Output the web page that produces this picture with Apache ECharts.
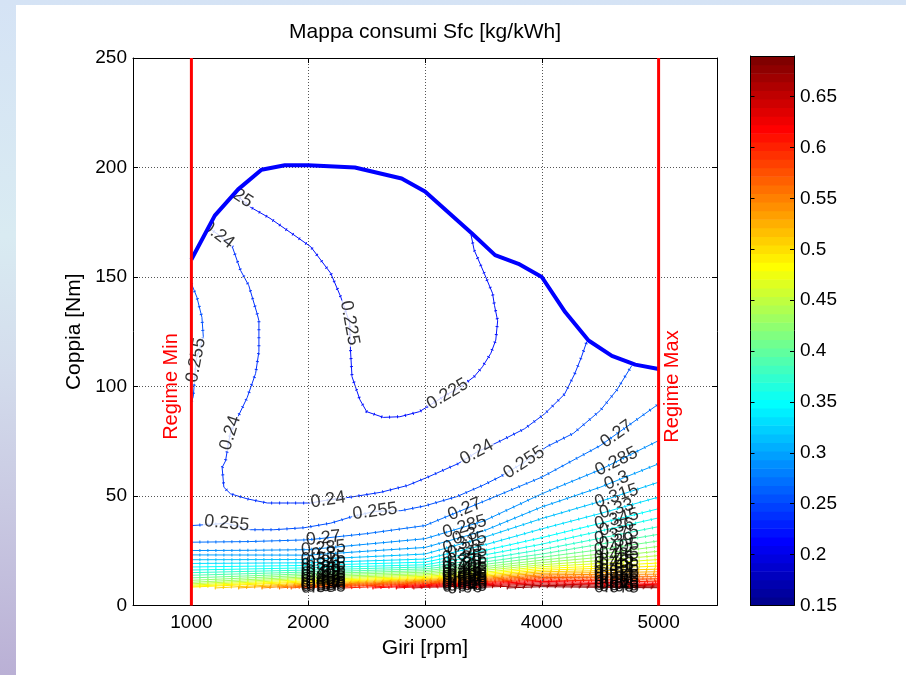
<!DOCTYPE html>
<html>
<head>
<meta charset="utf-8">
<title>Mappa consumi Sfc</title>
<script src="https://cdn.jsdelivr.net/npm/echarts@6/dist/echarts.min.js"></script>
<style>
  html, body { margin: 0; padding: 0; width: 906px; height: 675px; overflow: hidden; }
  body { background: linear-gradient(180deg, #d5e3f5 0%, #d9ebf2 35%, #d3dcec 55%, #c9c9e2 75%, #bab0d5 100%); position: relative; }
  #panel { position: absolute; left: 16px; top: 5px; right: 0; bottom: 0; background: #ffffff; }
  #chart { position: absolute; left: 0; top: 0; width: 906px; height: 675px; }
</style>
</head>
<body>
<div id="panel"></div>
<div id="chart"></div>
<script>
// ---- axes ----
const X_MIN = 500, X_MAX = 5500;
const Y_MIN = 0, Y_MAX = 250, Y_STEP = 50;
const X_TICKS = [1000, 2000, 3000, 4000, 5000];

// ---- operating limits ----
const REGIME_MIN = 1000;
const REGIME_MAX = 5000;
const REGIME_LABEL_NM = 100;

// ---- colour scale (Sfc, kg/kWh) ----
const CB_MIN = 0.15, CB_MAX = 0.69;
const CB_TICKS = [0.15, 0.2, 0.25, 0.3, 0.35, 0.4, 0.45, 0.5, 0.55, 0.6, 0.65];

// ---- full-load torque curve ----
const FULL_LOAD_RPM = [1000, 1200, 1400, 1600, 1800, 2000, 2400, 2800, 3000, 3400, 3600, 3800, 4000, 4200, 4400, 4600, 4800, 5000];
const FULL_LOAD_NM  = [158, 178, 190, 199, 201, 201, 200, 195, 189, 170, 160, 156, 150, 134, 121, 114, 110, 108];

// ---- iso-Sfc lines in the upper part of the map: [rpm, Nm] ----
const SFC_225 = [[1117,195],[1350,189],[1502,182],[1673,176.8],[1816,171.5],[2022,163.8],[2193,151.7],[2278,141],[2355,129],[2362,116.7],[2375,104.5],[2443,93.9],[2501,88.5],[2643,85.9],[2785,86.2],[2952,88.5],[3193,96.5],[3307,99.9],[3421,104.5],[3492,109],[3564,115.2],[3606,121.2],[3622,130],[3595,137],[3578,142.6],[3507,151.7],[3421,162.3],[3395,169]];
const SFC_240 = [[1074,175],[1230,169.4],[1349,164],[1421,153],[1492,146],[1564,133],[1578,130],[1578,116],[1550,106],[1478,95],[1333,78.8],[1292,66],[1263,63],[1278,54],[1335,51],[1478,48.7],[1650,46.8],[1850,46.8],[2021,46.8],[2170,48.2],[2365,49.5],[2622,51.7],[2850,54.8],[3023,58.6],[3280,64.7],[3443,70],[3652,75.3],[3852,80.7],[4024,87.5],[4195,96.5],[4281,105.7],[4339,113.4],[4385,120.5]];
const SFC_255_TOP = [[1000,147],[1047,140.8],[1090,131.6],[1102,122.7],[1040,112],[1016,95.3],[1000,93]];
const SFC_255 = [[1000,36.5],[1302,37.5],[1506,34.6],[1706,34.6],[1964,35.5],[2193,37.6],[2365,40.4],[2572,43],[2794,43.3],[3000,45.5],[3271,49.7],[3500,55],[3650,59],[3847,65.3],[4042,72.5],[4270,78.6],[4500,89],[4642,98.4],[4770,109.5]];
const SFC_270 = [[1000,28.9],[1500,29.2],[2000,30],[2500,32.8],[3000,36.5],[3500,47.5],[4000,58.6],[4500,73],[5000,92]];
const SFC_285 = [[1000,25.1],[1500,25.2],[2000,25.5],[2500,28],[3000,30.5],[3500,38.5],[4000,51],[4500,62],[5000,75.3]];
const SFC_300 = [[1000,23.1],[2000,23],[2500,24.8],[3000,26.5],[3500,34],[4000,45],[4500,54],[5000,64.7]];

// ---- dense iso-Sfc lines at low load: torque (Nm) at each rpm column ----
const LOW_RPM = [1000, 2000, 3000, 3500, 4000, 4500, 5000];
const LOW_LEVELS = [0.315, 0.33, 0.345, 0.36, 0.375, 0.39, 0.405, 0.42, 0.435, 0.45, 0.465, 0.48, 0.495,
                    0.51, 0.525, 0.54, 0.555, 0.57, 0.585, 0.6, 0.615, 0.63, 0.645, 0.66, 0.675];
const LOW_NM = [
  [20.9, 21.0, 23.5, 31.0, 39.7, 47.5, 56.3],
  [19.2, 19.5, 21.2, 27.5, 35.0, 42.0, 49.5],
  [17.6, 18.3, 19.8, 25.0, 31.0, 37.5, 44.2],
  [16.2, 17.2, 18.6, 23.0, 28.0, 34.0, 40.0],
  [15.0, 16.2, 17.6, 21.2, 25.5, 30.7, 36.0],
  [13.8, 15.3, 16.7, 19.8, 23.5, 28.0, 32.5],
  [12.6, 14.5, 15.9, 18.7, 22.0, 25.5, 29.5],
  [11.5, 13.8, 15.2, 17.7, 20.7, 23.5, 27.0],
  [10.6, 13.1, 14.5, 16.8, 19.6, 22.0, 24.8],
  [9.9, 12.5, 13.9, 16.0, 18.6, 20.5, 22.8],
  [9.3, 11.9, 13.3, 15.2, 17.7, 19.2, 21.0],
  [8.8, 11.3, 12.8, 14.6, 16.9, 18.0, 19.4],
  [8.4, 10.8, 12.3, 14.0, 16.1, 17.0, 18.0],
  [null, 10.3, 11.9, 13.4, 15.4, 15.9, 16.6],
  [null, 9.8, 11.5, 12.9, 14.7, 15.0, 15.4],
  [null, 9.4, 11.1, 12.4, 14.0, 14.2, 14.3],
  [null, 9.0, 10.7, 11.9, 13.4, 13.4, 13.3],
  [null, 8.6, 10.3, 11.4, 12.8, 12.7, 12.4],
  [null, 8.2, 9.9, 10.9, 12.2, 12.0, 11.6],
  [null, null, 9.5, 10.5, 11.6, 11.3, 10.8],
  [null, null, 9.1, 10.0, 11.0, 10.6, 10.1],
  [null, null, 8.7, 9.5, 10.4, 10.0, 9.5],
  [null, null, 8.3, 9.0, 9.8, 9.4, 9.0],
  [null, null, null, 8.4, 9.2, 8.8, 8.5],
  [null, null, null, null, 8.6, 8.3, 8.1]
];
// lowest mapped torque, and rpm where a line leaves that edge
const LOW_EDGE_NM = 8;
const LOW_START_RPM = [null, null, null, null, null, null, null, null, null, null, null, null, null,
                       1200, 1400, 1600, 1750, 1850, 1950, 2300, 2550, 2750, 2900, 3300, 3700];

// ---- contour labels ----
const LABELS_FIXED = [
  [0.225, 1350, 189], [0.225, 2355, 129], [0.225, 3193, 96.5],
  [0.24, 1230, 169.4], [0.24, 1333, 78.8], [0.24, 2170, 48.2], [0.24, 3443, 70],
  [0.255, 1040, 112], [0.255, 1302, 37.5], [0.255, 2572, 43], [0.255, 3847, 65.3]
];
const LABEL_CLUSTER_RPM = [2130, 3340, 4640];

const FONT = '"Liberation Sans", Arial, Helvetica, sans-serif';

// MATLAB-style 64-step jet colormap
function jet(i) {
  const u = k => (k <= 16 ? k / 16 : (k <= 31 ? 1 : (48 - k) / 16));
  const r = i >= 25 ? u(i - 24) : 0;
  const g = (i >= 9 && i <= 55) ? u(i - 8) : 0;
  const b = i <= 39 ? u(i + 8) : 0;
  return 'rgb(' + Math.round(r * 255) + ',' + Math.round(g * 255) + ',' + Math.round(b * 255) + ')';
}
function levelColor(v) {
  let idx = Math.floor((v - CB_MIN) / (CB_MAX - CB_MIN) * 64) + 1;
  return jet(Math.max(1, Math.min(64, idx)));
}
const fmt = v => String(+v.toFixed(3));

// contour segments: {level, pts}
const segments = [
  { level: 0.225, pts: SFC_225 },
  { level: 0.24, pts: SFC_240 },
  { level: 0.255, pts: SFC_255_TOP },
  { level: 0.255, pts: SFC_255 },
  { level: 0.27, pts: SFC_270 },
  { level: 0.285, pts: SFC_285 },
  { level: 0.3, pts: SFC_300 }
];
LOW_LEVELS.forEach((lv, r) => {
  const pts = [];
  if (LOW_START_RPM[r] != null) pts.push([LOW_START_RPM[r], LOW_EDGE_NM]);
  LOW_RPM.forEach((rpm, c) => { if (LOW_NM[r][c] != null) pts.push([rpm, LOW_NM[r][c]]); });
  segments.push({ level: lv, pts });
});

const fullLoad = FULL_LOAD_RPM.map((r, i) => [r, FULL_LOAD_NM[i]]);
const maskPts = fullLoad.concat([[REGIME_MAX, Y_MAX], [REGIME_MIN, Y_MAX]]);

const series = [];
segments.forEach(s => {
  const color = levelColor(s.level);
  series.push({ type: 'line', xAxisIndex: 0, yAxisIndex: 0, data: s.pts, symbol: 'none', silent: true, z: 2,
    lineStyle: { color, width: 1 }, emphasis: { disabled: true } });
  series.push({ type: 'line', xAxisIndex: 0, yAxisIndex: 0, data: s.pts, symbol: 'none', silent: true, z: 2,
    lineStyle: { color, width: 3, type: [1, 7] }, emphasis: { disabled: true } });
});
series.push({
  id: 'sfcLabels', type: 'scatter', xAxisIndex: 0, yAxisIndex: 0, z: 3, silent: true,
  symbolSize: 1, itemStyle: { color: 'rgba(0,0,0,0)' }, data: [],
  label: { show: true, position: 'inside', formatter: '{b}', fontSize: 18, color: '#000', fontFamily: FONT },
  emphasis: { disabled: true }
});
// white area above the full-load curve
series.push({
  type: 'custom', xAxisIndex: 0, yAxisIndex: 0, z: 4, silent: true, data: [[REGIME_MIN, Y_MAX]],
  renderItem: (params, api) => ({
    type: 'polygon', shape: { points: maskPts.map(p => api.coord(p)) }, style: { fill: '#ffffff' }
  })
});
series.push({ type: 'line', xAxisIndex: 0, yAxisIndex: 0, data: fullLoad, symbol: 'none', silent: true, z: 6,
  lineStyle: { color: '#0000ff', width: 4 }, emphasis: { disabled: true } });
[REGIME_MIN, REGIME_MAX].forEach(r => {
  series.push({ type: 'line', xAxisIndex: 0, yAxisIndex: 0, data: [[r, Y_MIN], [r, Y_MAX]], symbol: 'none', silent: true, z: 7,
    lineStyle: { color: '#ff0000', width: 3 }, emphasis: { disabled: true } });
});
// colour bar
series.push({
  type: 'custom', xAxisIndex: 2, yAxisIndex: 2, z: 2, silent: true, data: [[0, CB_MIN]],
  renderItem: (params, api) => {
    const children = [];
    const step = (CB_MAX - CB_MIN) / 64;
    for (let i = 1; i <= 64; i++) {
      const p0 = api.coord([0, CB_MIN + (i - 1) * step]);
      const p1 = api.coord([1, CB_MIN + i * step]);
      children.push({ type: 'rect', shape: { x: p0[0], y: p1[1], width: p1[0] - p0[0], height: p0[1] - p1[1] + 0.6 },
        style: { fill: jet(i) } });
    }
    return { type: 'group', children };
  }
});

const axisLine = { show: true, onZero: false, lineStyle: { color: '#000', width: 1 } };
const tickStyle = { color: '#000', width: 1 };
const labelStyle = { color: '#000', fontSize: 19, fontFamily: FONT };
const gridLine = { show: true, lineStyle: { color: '#555', type: [1, 2], width: 1 } };
const nameStyle = { fontSize: 21, color: '#000', fontFamily: FONT };

const option = {
  animation: false,
  textStyle: { fontFamily: FONT },
  grid: [
    { left: 133, top: 58, width: 584, height: 547.5, outerBoundsMode: 'none', containLabel: false },
    { left: 750.5, top: 56, width: 43.5, height: 549.5, outerBoundsMode: 'none', containLabel: false }
  ],
  xAxis: [
    { gridIndex: 0, type: 'value', min: X_MIN, max: X_MAX, position: 'bottom', z: 5,
      name: 'Giri [rpm]', nameLocation: 'middle', nameGap: 31, nameTextStyle: nameStyle,
      axisLine, axisTick: { show: true, inside: true, length: 5, customValues: X_TICKS, lineStyle: tickStyle },
      axisLabel: Object.assign({ show: true, customValues: X_TICKS, margin: 8, formatter: v => String(v) }, labelStyle),
      splitLine: gridLine },
    { gridIndex: 0, type: 'value', min: X_MIN, max: X_MAX, position: 'top', z: 5,
      axisLine, axisTick: { show: true, inside: true, length: 5, customValues: X_TICKS, lineStyle: tickStyle },
      axisLabel: { show: false }, splitLine: { show: false } },
    { gridIndex: 1, type: 'value', min: 0, max: 1, position: 'bottom', z: 5,
      axisLine, axisTick: { show: false }, axisLabel: { show: false }, splitLine: { show: false } },
    { gridIndex: 1, type: 'value', min: 0, max: 1, position: 'top', z: 5,
      axisLine, axisTick: { show: false }, axisLabel: { show: false }, splitLine: { show: false } }
  ],
  yAxis: [
    { gridIndex: 0, type: 'value', min: Y_MIN, max: Y_MAX, interval: Y_STEP, position: 'left', z: 5,
      name: 'Coppia [Nm]', nameLocation: 'middle', nameGap: 45, nameTextStyle: nameStyle,
      axisLine, axisTick: { show: true, inside: true, length: 5, lineStyle: tickStyle },
      axisLabel: Object.assign({ show: true, margin: 6, formatter: v => String(v) }, labelStyle),
      splitLine: gridLine },
    { gridIndex: 0, type: 'value', min: Y_MIN, max: Y_MAX, interval: Y_STEP, position: 'right', z: 5,
      axisLine, axisTick: { show: true, inside: true, length: 5, lineStyle: tickStyle },
      axisLabel: { show: false }, splitLine: { show: false } },
    { gridIndex: 1, type: 'value', min: CB_MIN, max: CB_MAX, position: 'right', z: 5,
      axisLine, axisTick: { show: true, inside: true, length: 4, customValues: CB_TICKS, lineStyle: tickStyle },
      axisLabel: Object.assign({ show: true, customValues: CB_TICKS, margin: 6, formatter: v => fmt(v) }, labelStyle),
      splitLine: { show: false } },
    { gridIndex: 1, type: 'value', min: CB_MIN, max: CB_MAX, position: 'left', z: 5,
      axisLine, axisTick: { show: true, inside: true, length: 4, customValues: CB_TICKS, lineStyle: tickStyle },
      axisLabel: { show: false }, splitLine: { show: false } }
  ],
  series
};

const chart = echarts.init(document.getElementById('chart'), null, { renderer: 'canvas' });
chart.setOption(option);

// ---- place contour labels along their lines ----
const finder = { xAxisIndex: 0, yAxisIndex: 0 };
const toPx = p => chart.convertToPixel(finder, p);

function pointAlong(px, s) {
  let acc = 0;
  for (let i = 0; i < px.length - 1; i++) {
    const a = px[i], b = px[i + 1];
    const L = Math.hypot(b[0] - a[0], b[1] - a[1]);
    if (acc + L >= s || i === px.length - 2) {
      const t = L ? Math.max(0, Math.min(1, (s - acc) / L)) : 0;
      return [a[0] + (b[0] - a[0]) * t, a[1] + (b[1] - a[1]) * t];
    }
    acc += L;
  }
  return px[0];
}
function lineAngle(pts, at) {
  const px = pts.map(toPx);
  const q = toPx(at);
  let best = { d: Infinity, s: 0 }, acc = 0;
  for (let i = 0; i < px.length - 1; i++) {
    const a = px[i], b = px[i + 1];
    const dx = b[0] - a[0], dy = b[1] - a[1];
    const L = Math.hypot(dx, dy);
    let t = L ? ((q[0] - a[0]) * dx + (q[1] - a[1]) * dy) / (L * L) : 0;
    t = Math.max(0, Math.min(1, t));
    const d = Math.hypot(q[0] - (a[0] + t * dx), q[1] - (a[1] + t * dy));
    if (d < best.d) best = { d, s: acc + t * L };
    acc += L;
  }
  const p1 = pointAlong(px, Math.max(0, best.s - 12));
  const p2 = pointAlong(px, Math.min(acc, best.s + 12));
  let ang = Math.atan2(-(p2[1] - p1[1]), p2[0] - p1[0]) * 180 / Math.PI;
  if (ang > 90) ang -= 180;
  if (ang <= -90) ang += 180;
  return ang;
}
function valueAt(pts, rpm) {
  for (let i = 0; i < pts.length - 1; i++) {
    const a = pts[i], b = pts[i + 1];
    if (a[0] !== b[0] && (a[0] - rpm) * (b[0] - rpm) <= 0) {
      return a[1] + (b[1] - a[1]) * (rpm - a[0]) / (b[0] - a[0]);
    }
  }
  return null;
}
function segmentFor(level, at) {
  const cands = segments.filter(s => Math.abs(s.level - level) < 1e-9);
  if (cands.length === 1 || !at) return cands[0];
  let best = cands[0], bd = Infinity;
  cands.forEach(s => {
    s.pts.forEach(p => { const d = Math.hypot(p[0] - at[0], (p[1] - at[1]) * 20); if (d < bd) { bd = d; best = s; } });
  });
  return best;
}

const labelData = [];
LABELS_FIXED.forEach(([lv, rpm, nm]) => {
  const seg = segmentFor(lv, [rpm, nm]);
  labelData.push({ name: fmt(lv), value: [rpm, nm],
    label: { rotate: lineAngle(seg.pts, [rpm, nm]), backgroundColor: '#ffffff', padding: [0, 1], lineHeight: 15 } });
});
segments.filter(s => s.level >= 0.27 - 1e-9).forEach(s => {
  LABEL_CLUSTER_RPM.forEach(rpm => {
    const nm = valueAt(s.pts, rpm);
    if (nm == null) return;
    labelData.push({ name: fmt(s.level), value: [rpm, nm], label: { rotate: lineAngle(s.pts, [rpm, nm]) } });
  });
});

const pMin = toPx([REGIME_MIN, REGIME_LABEL_NM]);
const pMax = toPx([REGIME_MAX, REGIME_LABEL_NM]);
const gridBox = { x: toPx([X_MIN, Y_MAX])[0], x2: toPx([X_MAX, Y_MAX])[0] };

chart.setOption({
  series: [{ id: 'sfcLabels', data: labelData }],
  graphic: [
    { type: 'text', x: (gridBox.x + gridBox.x2) / 2, y: 32, silent: true,
      style: { text: 'Mappa consumi Sfc [kg/kWh]', fontSize: 21, fontFamily: FONT, fill: '#000', align: 'center', verticalAlign: 'middle' } },
    { type: 'text', x: pMin[0] - 20, y: pMin[1], rotation: Math.PI / 2, silent: true, z: 10,
      style: { text: 'Regime Min', fontSize: 20, fontFamily: FONT, fill: '#ff0000', align: 'center', verticalAlign: 'middle' } },
    { type: 'text', x: pMax[0] + 14, y: pMax[1], rotation: Math.PI / 2, silent: true, z: 10,
      style: { text: 'Regime Max', fontSize: 20, fontFamily: FONT, fill: '#ff0000', align: 'center', verticalAlign: 'middle' } }
  ]
});
</script>
</body>
</html>
